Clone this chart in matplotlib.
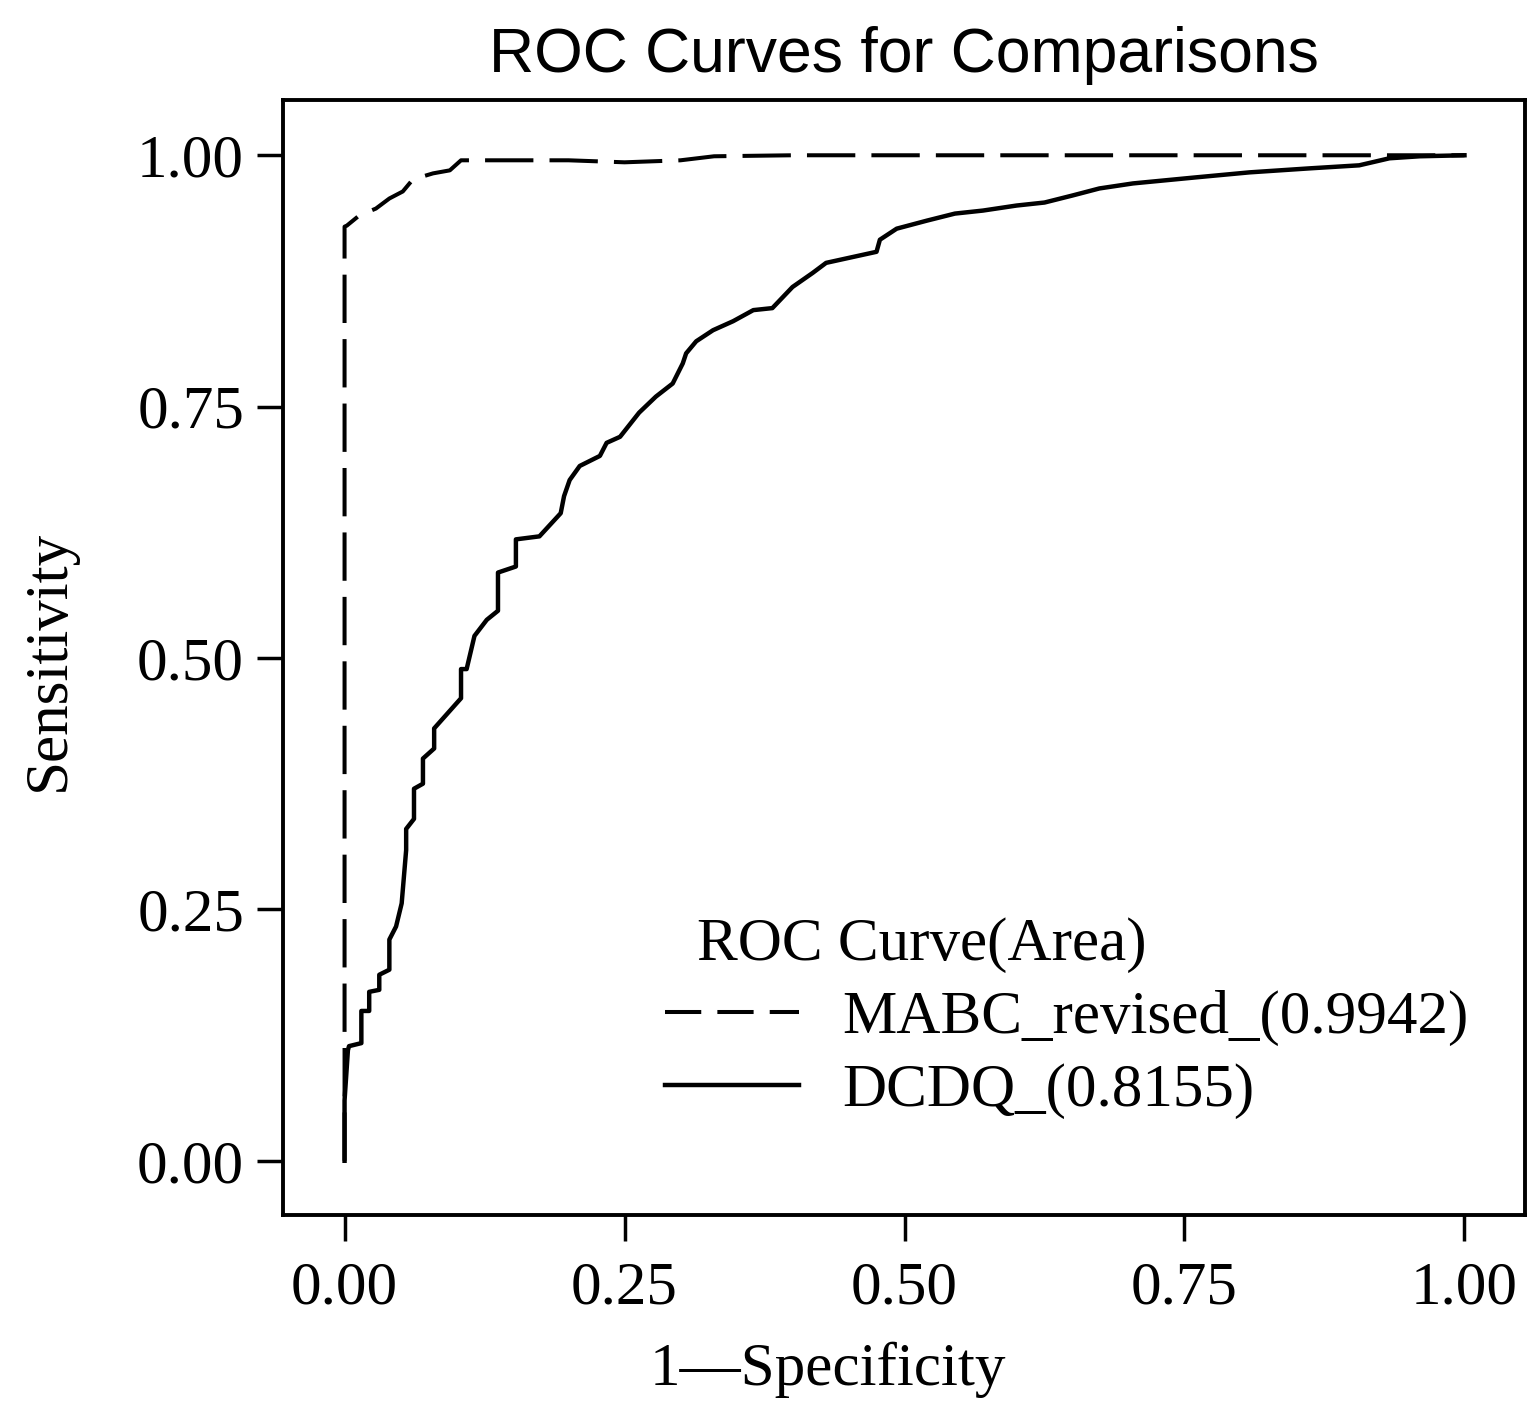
import matplotlib
matplotlib.use('Agg')
import matplotlib.pyplot as plt
from matplotlib.lines import Line2D

plt.rcParams['font.family'] = ['Liberation Serif', 'DejaVu Serif']
plt.rcParams['font.size'] = 44

# ---- data: (1 - specificity, sensitivity) ----
mabc_fpr = [0.0, 0.0, 0.002, 0.013, 0.028, 0.040, 0.052, 0.061, 0.079, 0.094,
            0.104, 0.135, 0.20, 0.25, 0.30, 0.33, 0.40, 0.60, 0.80, 1.0]
mabc_tpr = [0.0, 0.929, 0.930, 0.940, 0.947, 0.957, 0.964, 0.976, 0.982, 0.985,
            0.995, 0.995, 0.995, 0.993, 0.995, 0.999, 1.0, 1.0, 1.0, 1.0]

dcdq_fpr = [0.0, 0.0, 0.003, 0.004, 0.015, 0.015, 0.022, 0.022, 0.031, 0.031,
            0.040, 0.040, 0.046, 0.051, 0.055, 0.055, 0.062, 0.062, 0.070, 0.070,
            0.080, 0.080, 0.088, 0.096, 0.104, 0.104, 0.109, 0.116, 0.127, 0.137,
            0.137, 0.153, 0.153, 0.174, 0.193, 0.196, 0.201, 0.210, 0.228, 0.234,
            0.246, 0.263, 0.278, 0.293, 0.302, 0.305, 0.314, 0.329, 0.347, 0.365,
            0.382, 0.400, 0.418, 0.430, 0.475, 0.478, 0.493, 0.52, 0.545, 0.57,
            0.60, 0.625, 0.65, 0.674, 0.704, 0.76, 0.808, 0.862, 0.906, 0.933,
            0.96, 1.0]
dcdq_tpr = [0.0, 0.06, 0.11, 0.114, 0.117, 0.149, 0.149, 0.168, 0.170, 0.185,
            0.190, 0.220, 0.233, 0.256, 0.309, 0.33, 0.34, 0.37, 0.375, 0.40,
            0.41, 0.43, 0.44, 0.45, 0.46, 0.489, 0.489, 0.522, 0.538, 0.547,
            0.585, 0.591, 0.618, 0.621, 0.644, 0.661, 0.677, 0.691, 0.701, 0.714,
            0.720, 0.744, 0.760, 0.773, 0.793, 0.803, 0.815, 0.826, 0.835, 0.846,
            0.848, 0.869, 0.883, 0.893, 0.904, 0.916, 0.927, 0.935, 0.942, 0.945,
            0.950, 0.953, 0.960, 0.967, 0.972, 0.978, 0.983, 0.987, 0.990, 0.997,
            0.999, 1.0]

ticks = [0.0, 0.25, 0.5, 0.75, 1.0]
tick_labels = ['0.00', '0.25', '0.50', '0.75', '1.00']
labels = ['MABC_revised_(0.9942)', 'DCDQ_(0.8155)']

fig = plt.figure(figsize=(15.32, 14.06), dpi=100)
ax = fig.add_axes([0.1847, 0.1358, 0.8107, 0.7931])

ax.plot(mabc_fpr, mabc_tpr, color='black', lw=2.9, linestyle=(0, (12, 4)))
ax.plot(dcdq_fpr, dcdq_tpr, color='black', lw=3.2)

ax.set_xlim(-0.055, 1.054)
ax.set_ylim(-0.054, 1.055)
ax.set_xticks(ticks)
ax.set_xticklabels(tick_labels)
ax.set_yticks(ticks)
ax.set_yticklabels(tick_labels)
ax.tick_params(axis='both', direction='out', length=19, width=2.5, labelsize=44)
ax.tick_params(axis='x', pad=14)
ax.tick_params(axis='y', pad=9)
for sp in ax.spines.values():
    sp.set_linewidth(2.8)

ax.set_title('ROC Curves for Comparisons', family='Liberation Sans', fontsize=45, pad=20)
ax.set_xlabel('1\u2014Specificity', fontsize=44)
ax.xaxis.set_label_coords(0.439, -0.139)
ax.xaxis.label.set_va('center')
ax.set_ylabel('Sensitivity', fontsize=44)
ax.yaxis.set_label_coords(-0.188, 0.497)
ax.yaxis.label.set_va('center')

# legend: title as text, entries through ax.legend
fig.text(697 / 1532, 1 - 945 / 1406, 'ROC Curve(Area)', fontsize=44, va='center', ha='left')
handles = [Line2D([], [], color='black', lw=2.9, linestyle=(0, (9, 4))),
           Line2D([], [], color='black', lw=3.2)]
ax.legend(handles, labels, loc='upper left', bbox_to_anchor=(665 / 1532, 1 - 990 / 1406),
          bbox_transform=fig.transFigure, frameon=False, fontsize=44,
          handlelength=2.2, handletextpad=0.7, borderpad=0, borderaxespad=0,
          labelspacing=0.28)

fig.savefig('out.png', dpi=100)
